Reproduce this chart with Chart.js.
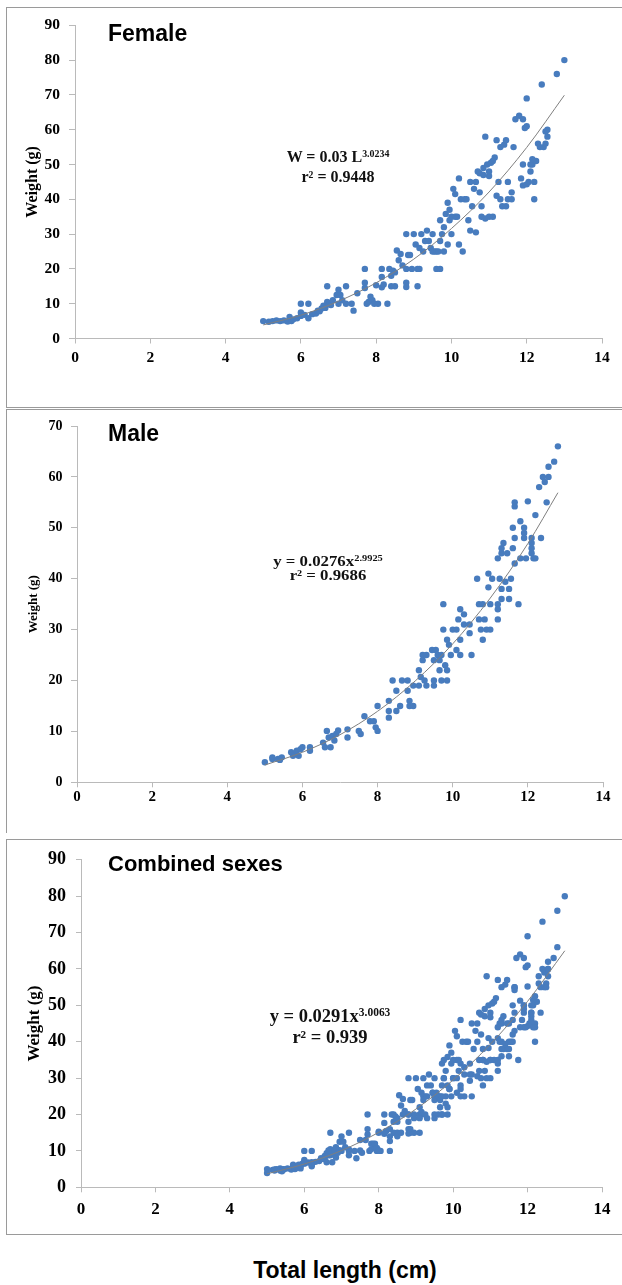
<!DOCTYPE html>
<html>
<head>
<meta charset="utf-8">
<script src="https://cdn.jsdelivr.net/npm/chart.js@4/dist/chart.umd.min.js"></script>
<style>
  html, body { margin: 0; padding: 0; background: #fff; }
  body { width: 622px; height: 1285px; position: relative; overflow: hidden; }
  .panel { position: absolute; left: 6px; width: 640px; border: 1px solid #9a9a9a; box-sizing: border-box; }
  canvas { position: absolute; left: 0; }
  .title { position: absolute; left: 108px; font-family: "Liberation Sans", Arial, sans-serif; font-weight: bold;
    font-size: 23px; line-height: 23px; color: #000; white-space: nowrap; }
  .eq { position: absolute; width: 240px; text-align: center; font-family: "Liberation Serif", "Times New Roman", serif;
    font-weight: bold; color: #111; white-space: nowrap; line-height: 1; }
  .eq sup { font-size: 62%; vertical-align: 0; position: relative; top: -0.55em; }
  .xlabel { position: absolute; left: 195px; width: 300px; top: 1259px; text-align: center;
    font-family: "Liberation Sans", Arial, sans-serif; font-weight: bold; font-size: 23px; line-height: 23px;
    color: #000; white-space: nowrap; }
</style>
</head>
<body>
<div class="panel" style="top:7px; height:401px;"></div>
<div class="panel" style="top:409px; height:424px; border-bottom:none;"></div>
<div class="panel" style="top:839px; height:396px;"></div>

<canvas id="femaleChart" style="top:7px;"></canvas>
<canvas id="maleChart" style="top:409px;"></canvas>
<canvas id="combinedChart" style="top:839px;"></canvas>

<div class="title" style="top:22px;">Female</div>
<div class="title" style="top:422px;">Male</div>
<div class="title" style="top:852px; font-size:22px;">Combined sexes</div>

<div class="eq" style="left:218px; top:149px; font-size:16px;">W = 0.03 L<sup>3.0234</sup></div>
<div class="eq" style="left:218px; top:169px; font-size:16px;">r² = 0.9448</div>
<div class="eq" style="left:208px; top:555px; font-size:14px; transform:scaleX(1.2);">y = 0.0276x<sup>2.9925</sup></div>
<div class="eq" style="left:208px; top:569px; font-size:14px; transform:scaleX(1.2);">r² = 0.9686</div>
<div class="eq" style="left:210px; top:1007px; font-size:18.5px;">y = 0.0291x<sup>3.0063</sup></div>
<div class="eq" style="left:210px; top:1028px; font-size:18.5px;">r² = 0.939</div>

<div class="xlabel">Total length (cm)</div>

<script>
// Female length (cm) / weight (g)
const femaleLength = [
  5.0, 5.15, 5.25, 5.35, 5.45, 5.55, 5.65, 5.7, 5.75, 5.8, 5.9, 6.0, 6.0, 6.0, 6.1, 6.2, 6.2, 6.3, 6.4, 6.45,
  6.5, 6.55, 6.6, 6.65, 6.7, 6.7, 6.75, 6.8, 6.85, 6.95, 7.0, 7.0, 7.05, 7.1, 7.2, 7.2, 7.35, 7.4, 7.5, 7.7,
  7.7, 7.7, 7.75, 7.8, 7.85, 7.9, 7.95, 8.0, 8.05, 8.15, 8.15, 8.15, 8.2, 8.3, 8.35, 8.4, 8.4, 8.45, 8.5, 8.5,
  8.55, 8.6, 8.65, 8.7, 8.8, 8.8, 8.8, 8.8, 8.85, 8.9, 8.95, 9.0, 9.05, 9.1, 9.1, 9.15, 9.15, 9.2, 9.25, 9.3,
  9.35, 9.4, 9.45, 9.5, 9.5, 9.55, 9.6, 9.6, 9.65, 9.7, 9.7, 9.7, 9.75, 9.8, 9.8, 9.85, 9.9, 9.9, 9.95, 9.95,
  10.0, 10.0, 10.05, 10.1, 10.1, 10.15, 10.2, 10.2, 10.25, 10.3, 10.35, 10.4, 10.45, 10.5, 10.5, 10.55, 10.6, 10.65, 10.65, 10.7,
  10.75, 10.8, 10.8, 10.85, 10.9, 10.9, 10.95, 11.0, 11.0, 11.05, 11.1, 11.15, 11.2, 11.2, 11.25, 11.3, 11.3, 11.35, 11.4, 11.45,
  11.45, 11.5, 11.5, 11.6, 11.6, 11.65, 11.7, 11.8, 11.85, 11.9, 11.9, 11.95, 12.0, 12.0, 12.05, 12.1, 12.15, 12.2, 12.2, 12.25,
  12.3, 12.35, 12.4, 12.45, 12.5, 12.55, 12.8, 13.0,
  11.9, 12.0, 12.1, 12.15, 11.0, 10.85, 11.1, 10.75, 12.5, 12.55
];
const femaleWeight = [
  5, 4.8, 5, 5.2, 5, 5.2, 4.9, 6.2, 5, 5.5, 5.8, 10, 7.5, 6.5, 6.8, 10, 5.8, 7, 7.2, 8,
  7.8, 8.6, 9.4, 8.8, 10.5, 15, 9.8, 9.6, 11, 12.5, 14, 10, 12.5, 11, 15, 10, 10, 8, 13, 20,
  16, 14.5, 10, 10.5, 12, 11, 10, 15.3, 10, 20, 17.7, 14.7, 15.5, 10, 20, 18, 15, 19.5, 19, 15,
  25.3, 22.5, 24.3, 21, 20, 14.8, 16, 30, 24, 24, 20, 30, 27, 15, 20, 20, 26, 30, 25, 28,
  31, 28, 26, 30, 25, 25, 20, 25, 25, 20, 34, 28, 30, 25, 32, 35.8, 39, 27, 37, 34,
  35, 30, 43, 41.5, 35, 35, 46, 27, 40, 25, 40, 40, 34, 45, 31, 38, 43, 45, 30.5, 48,
  42, 38, 35, 47, 58, 34.5, 50, 46.7, 35, 50.5, 35, 52, 57, 41, 45, 40, 55, 38, 55.7, 57,
  38, 40, 45, 42, 40, 55, 63, 64, 46, 50, 44, 60.5, 69, 44.3, 45, 48, 50, 45, 40, 51,
  56, 55, 73, 55, 59.5, 60, 76, 80,
  63, 61, 50, 51.5, 48, 49, 51, 47.5, 56, 58
];

// Male length (cm) / weight (g)
const maleLength = [
  5.0, 5.2, 5.2, 5.35, 5.45, 5.4, 5.7, 5.75, 5.8, 5.85, 5.9, 5.95, 6.0, 6.2, 6.2,
  6.55, 6.6, 6.65, 6.7, 6.75, 6.8, 6.85, 6.9, 6.95, 7.2, 7.2,
  7.5, 7.55, 7.65, 7.8, 7.9, 7.95, 8.0, 8.0,
  8.3, 8.3, 8.3, 8.4, 8.5, 8.5, 8.6, 8.65, 8.8, 8.8, 8.85, 8.85, 8.95, 8.95,
  9.1, 9.1, 9.15, 9.2, 9.2, 9.25, 9.3, 9.3,
  9.45, 9.5, 9.5, 9.5, 9.55, 9.6, 9.65, 9.65, 9.7, 9.7, 9.75, 9.75, 9.8, 9.85, 9.85, 9.85, 9.9, 9.95,
  10.0, 10.1, 10.1, 10.15, 10.2, 10.2, 10.2, 10.3, 10.3, 10.45, 10.45, 10.5,
  10.65, 10.7, 10.7, 10.75, 10.8, 10.8, 10.85, 10.9, 10.95, 10.95, 11.0, 11.0, 11.05,
  11.2, 11.2, 11.2, 11.2, 11.25, 11.3, 11.3, 11.3, 11.3, 11.35, 11.4, 11.45, 11.5, 11.5, 11.55,
  11.6, 11.6, 11.65, 11.65, 11.65, 11.65, 11.75, 11.8, 11.8, 11.9, 11.9, 11.9, 11.95, 12.0,
  12.1, 12.1, 12.1, 12.1, 12.15, 12.2, 12.2, 12.3, 12.35, 12.4, 12.45, 12.5, 12.55, 12.55, 12.7, 12.8
];
const maleWeight = [
  3.95, 4.9, 4.6, 4.6, 4.9, 4.4, 5.9, 5.2, 5.6, 6.2, 5.2, 6.5, 6.9, 6.9, 6.2,
  7.8, 6.9, 10.1, 8.8, 6.9, 9.1, 8.2, 9.5, 10.2, 10.4, 8.8,
  10.1, 9.5, 13, 12, 12, 10.8, 10.1, 15,
  16, 14, 12.7, 20, 18, 14, 15, 20, 20, 18, 16, 15, 19, 15,
  22, 19, 20.7, 25, 24, 20, 25, 19,
  26, 24, 20, 19, 26, 25, 24, 22, 20, 25, 35, 30, 23, 28, 22, 20, 27, 25,
  30, 30, 26, 32, 28, 34, 25, 33, 31, 31, 29.3, 25,
  40, 35, 32, 30, 28, 35, 32, 30, 41, 38.3, 35, 30, 40,
  34, 32, 35, 44, 40, 46, 45, 38, 36, 47, 39.4, 45, 38, 36, 40,
  50, 46, 43, 55, 54.2, 48, 35, 51.3, 44, 50, 49, 48, 44, 55.2,
  48, 47, 46, 45, 44, 52.5, 44, 58, 48, 60, 59, 55, 60, 62, 63, 66
];

// Fitted power curves
const femaleTrendX = [5, 6, 7, 8, 9, 10, 11, 12, 13];
const femaleTrendY = [3.9, 6.7, 10.7, 16.0, 22.8, 31.6, 42.1, 54.9, 69.9];
const maleTrendX = [5, 6, 7, 8, 9, 10, 11, 12, 12.8];
const maleTrendY = [3.4, 5.9, 9.35, 13.95, 19.9, 27.2, 36.2, 46.9, 56.9];
const combinedTrendX = [5, 6, 7, 8, 9, 10, 11, 12, 13];
const combinedTrendY = [3.7, 6.4, 10.1, 15.1, 21.5, 29.5, 39.3, 51.1, 65.0];

// combined sample = both sexes pooled
const combinedLength = femaleLength.concat(maleLength);
const combinedWeight = femaleWeight.concat(maleWeight);

const xTicks = [0, 2, 4, 6, 8, 10, 12, 14];

const dotColor = "rgb(72, 124, 190)";
const axisColor = "#bababa";

function toPoints(xs, ys) {
  return xs.map((x, i) => ({ x: x, y: ys[i] }));
}

function makeChart(id, opt) {
  const canvas = document.getElementById(id);
  canvas.width = 622;
  canvas.height = opt.height;
  canvas.style.width = "622px";
  canvas.style.height = opt.height + "px";

  return new Chart(canvas.getContext("2d"), {
    type: "scatter",
    data: {
      datasets: [
        {
          data: toPoints(opt.trendX, opt.trendY),
          showLine: true,
          borderColor: "#7f7f7f",
          borderWidth: 1,
          pointRadius: 0,
          cubicInterpolationMode: "monotone",
        },
        {
          data: toPoints(opt.xs, opt.ys),
          backgroundColor: dotColor,
          borderWidth: 0,
          pointRadius: 3.2,
        },
      ],
    },
    options: {
      responsive: false,
      animation: false,
      devicePixelRatio: 1,
      layout: { padding: { left: 0, top: opt.top, right: opt.right, bottom: opt.bottom } },
      plugins: { legend: { display: false }, tooltip: { enabled: false } },
      scales: {
        x: {
          type: "linear",
          min: 0,
          max: 14,
          afterBuildTicks: (axis) => { axis.ticks = xTicks.map((v) => ({ value: v })); },
          afterFit: (axis) => { axis.height = 40; },
          grid: { drawOnChartArea: false, color: axisColor, tickLength: 5 },
          border: { color: axisColor },
          ticks: {
            color: "#000",
            padding: opt.xPad,
            maxRotation: 0,
            font: { family: "Liberation Serif", weight: "bold", size: opt.xFont },
          },
        },
        y: {
          type: "linear",
          min: 0,
          max: opt.yMax,
          afterFit: (axis) => { axis.width = opt.left; },
          grid: { drawOnChartArea: false, color: axisColor, tickLength: opt.yTick },
          border: { color: axisColor },
          ticks: {
            stepSize: 10,
            color: "#000",
            padding: opt.yPad,
            font: { family: "Liberation Serif", weight: "bold", size: opt.yFont },
          },
          title: {
            display: true,
            text: "Weight (g)",
            color: "#000",
            padding: { top: opt.titlePad, bottom: 0 },
            font: { family: "Liberation Serif", weight: "bold", size: opt.titleFont },
          },
        },
      },
    },
  });
}

makeChart("femaleChart", {
  xs: femaleLength, ys: femaleWeight, trendX: femaleTrendX, trendY: femaleTrendY,
  height: 400, yMax: 90, left: 75, top: 16.3, right: 20, bottom: 28.5,
  xFont: 15.5, yFont: 15.5, xPad: 5.5, yPad: 9, yTick: 6, titleFont: 16, titlePad: 23.4,
});

makeChart("maleChart", {
  xs: maleLength, ys: maleWeight, trendX: maleTrendX, trendY: maleTrendY,
  height: 426, yMax: 70, left: 77, top: 12.7, right: 19, bottom: 12.7,
  xFont: 15, yFont: 14, xPad: 1, yPad: 8.6, yTick: 6, titleFont: 13, titlePad: 26,
});

makeChart("combinedChart", {
  xs: combinedLength, ys: combinedWeight, trendX: combinedTrendX, trendY: combinedTrendY,
  height: 396, yMax: 90, left: 81, top: 18, right: 20, bottom: 7.7,
  xFont: 17, yFont: 18, xPad: 6.8, yPad: 10, yTick: 5, titleFont: 17, titlePad: 24.5,
});
</script>
</body>
</html>
